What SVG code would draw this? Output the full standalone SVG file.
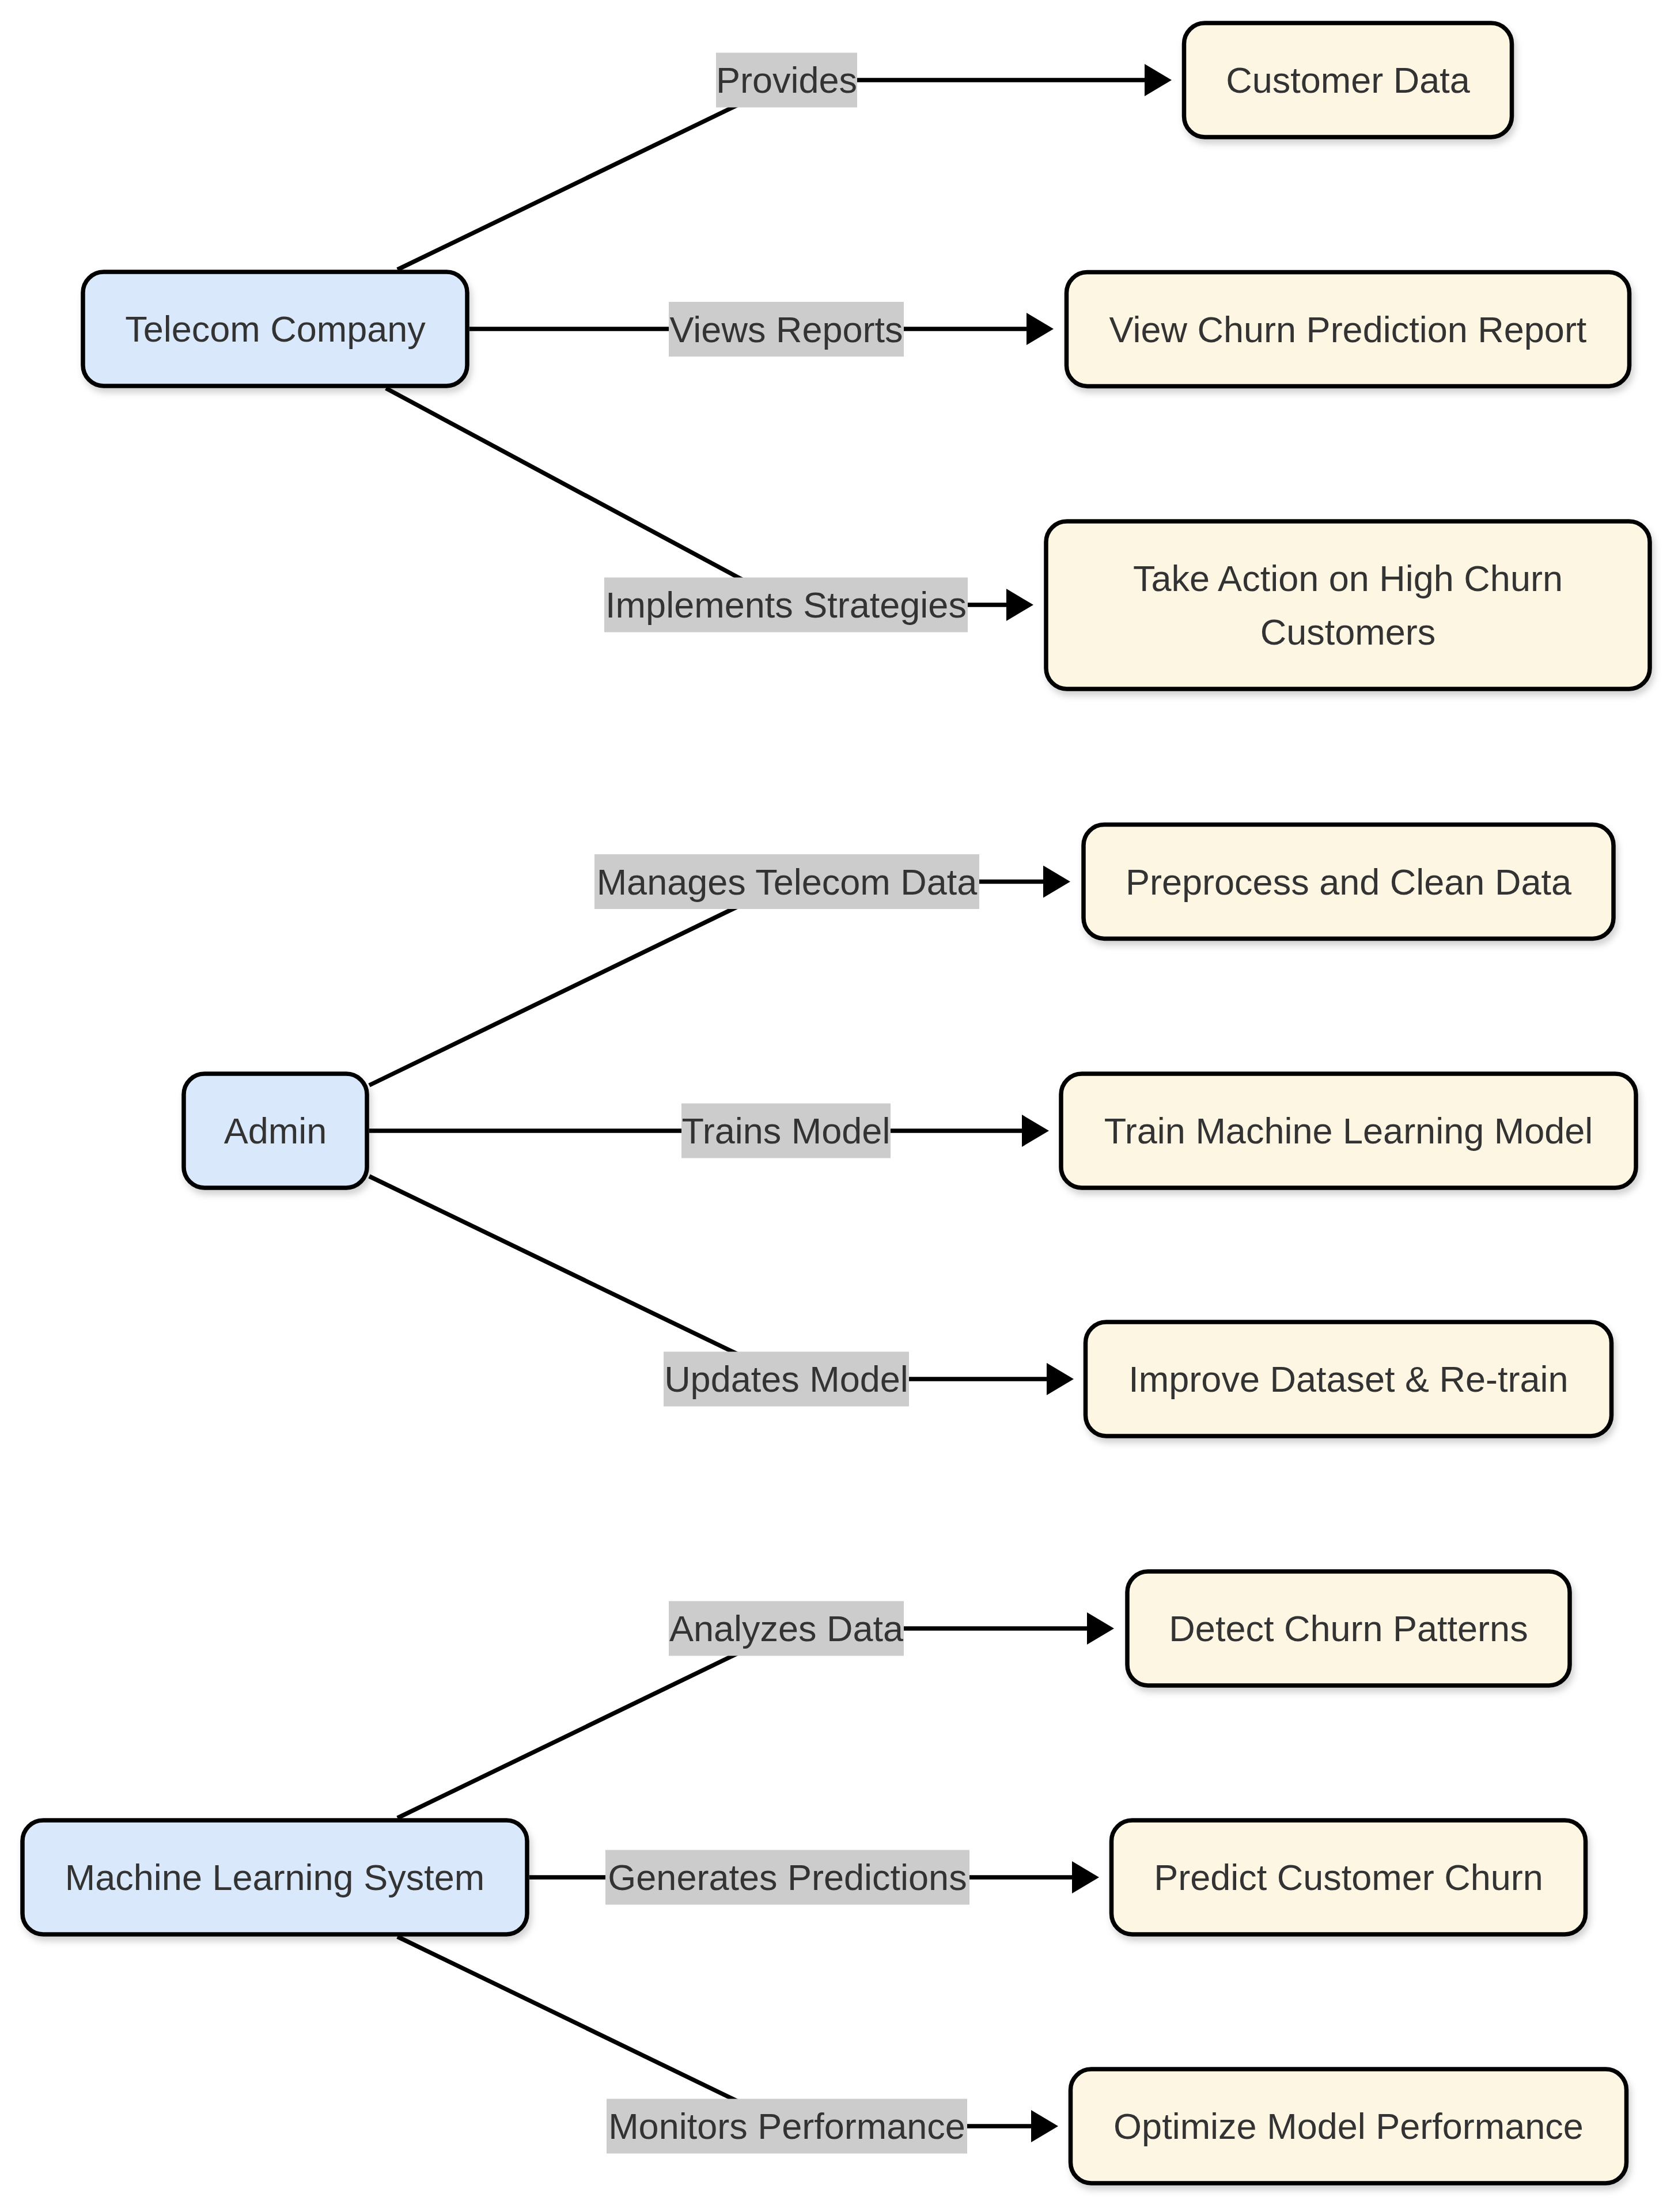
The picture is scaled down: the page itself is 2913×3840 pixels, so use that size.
<svg xmlns="http://www.w3.org/2000/svg" width="2913" height="3840" viewBox="0 0 2913 3840">
<defs>
<style>
.bg{fill:#ffffff}
.edge{fill:none;stroke:#000000;stroke-width:7.5;marker-end:url(#arrow)}
.lblbg{fill:#cccccc}
.lbl{font-family:"Liberation Sans",Arial,sans-serif;font-size:63px;fill:#333333;text-anchor:middle}
.actor rect{fill:#dae8fc;stroke:#000000;stroke-width:7.5;filter:url(#shadow)}
.task rect{fill:#fdf6e3;stroke:#000000;stroke-width:7.5;filter:url(#shadow)}
.node text{font-family:"Liberation Sans",Arial,sans-serif;font-size:63px;fill:#333333;text-anchor:middle}
</style>
<marker id="arrow" viewBox="0 0 47 56" markerWidth="47" markerHeight="56" refX="0" refY="28" markerUnits="userSpaceOnUse" orient="auto">
<path d="M0,0 L47,28 L0,56 Z" fill="#000000"/>
</marker>
<filter id="shadow" x="-10%" y="-20%" width="120%" height="150%">
<feDropShadow dx="4" dy="8" stdDeviation="6" flood-color="#000000" flood-opacity="0.18"/>
</filter>
</defs>
<rect class="bg" x="0" y="0" width="2913" height="3840"/>
<g id="connectors">
<path class="edge" d="M690,468 L1370,139 L1987,139"/>
<path class="edge" d="M815,571 L1782,571"/>
<path class="edge" d="M670,674 L1370,1050 L1747,1050"/>
<path class="edge" d="M641,1884 L1370,1530.5 L1811,1530.5"/>
<path class="edge" d="M641,1963 L1774,1963"/>
<path class="edge" d="M641,2042 L1370,2394 L1817,2394"/>
<path class="edge" d="M690,3156 L1370,2827 L1887,2827"/>
<path class="edge" d="M919,3259 L1861,3259"/>
<path class="edge" d="M690,3362 L1370,3691 L1790,3691"/>
</g>
<g id="edge-labels">
<g id="label-provides"><rect class="lblbg" x="1243" y="91.5" width="245" height="95"/><text class="lbl" x="1365.5" y="161">Provides</text></g>
<g id="label-views-reports"><rect class="lblbg" x="1161" y="524" width="408" height="95"/><text class="lbl" x="1365" y="593.5">Views Reports</text></g>
<g id="label-implements"><rect class="lblbg" x="1049" y="1002.5" width="631" height="95"/><text class="lbl" x="1364.5" y="1072">Implements Strategies</text></g>
<g id="label-manages"><rect class="lblbg" x="1032" y="1483" width="668" height="95"/><text class="lbl" x="1366" y="1552.5">Manages Telecom Data</text></g>
<g id="label-trains"><rect class="lblbg" x="1183" y="1915.5" width="363" height="95"/><text class="lbl" x="1364.5" y="1985">Trains Model</text></g>
<g id="label-updates"><rect class="lblbg" x="1152" y="2346.5" width="426" height="95"/><text class="lbl" x="1365" y="2416">Updates Model</text></g>
<g id="label-analyzes"><rect class="lblbg" x="1161" y="2779.5" width="408" height="95"/><text class="lbl" x="1365" y="2849">Analyzes Data</text></g>
<g id="label-generates"><rect class="lblbg" x="1051" y="3211.5" width="632" height="95"/><text class="lbl" x="1367" y="3281">Generates Predictions</text></g>
<g id="label-monitors"><rect class="lblbg" x="1053" y="3643.5" width="626" height="95"/><text class="lbl" x="1366" y="3713">Monitors Performance</text></g>
</g>
<g id="node-telecom" class="node actor"><rect x="144" y="472" width="667" height="198" rx="36"/><text x="478" y="593">Telecom Company</text></g>
<g id="node-admin" class="node actor"><rect x="319" y="1864" width="318" height="198" rx="36"/><text x="478" y="1985">Admin</text></g>
<g id="node-mlsystem" class="node actor"><rect x="39" y="3160" width="876" height="198" rx="36"/><text x="477" y="3281">Machine Learning System</text></g>
<g id="node-customer-data" class="node task"><rect x="2055.5" y="40" width="569" height="198" rx="36"/><text x="2340" y="161">Customer Data</text></g>
<g id="node-view-report" class="node task"><rect x="1851.5" y="472.5" width="977" height="198" rx="36"/><text x="2340" y="593.5">View Churn Prediction Report</text></g>
<g id="node-take-action" class="node task"><rect x="1816" y="905" width="1048" height="291" rx="36"/><text x="2340" y="1026">Take Action on High Churn</text><text x="2340" y="1119">Customers</text></g>
<g id="node-preprocess" class="node task"><rect x="1881" y="1431.5" width="920" height="198" rx="36"/><text x="2341" y="1552.5">Preprocess and Clean Data</text></g>
<g id="node-train" class="node task"><rect x="1842" y="1864" width="998" height="198" rx="36"/><text x="2341" y="1985">Train Machine Learning Model</text></g>
<g id="node-improve" class="node task"><rect x="1884.5" y="2295" width="913" height="198" rx="36"/><text x="2341" y="2416">Improve Dataset &amp; Re-train</text></g>
<g id="node-detect" class="node task"><rect x="1957" y="2728" width="768" height="198" rx="36"/><text x="2341" y="2849">Detect Churn Patterns</text></g>
<g id="node-predict" class="node task"><rect x="1929.5" y="3160" width="823" height="198" rx="36"/><text x="2341" y="3281">Predict Customer Churn</text></g>
<g id="node-optimize" class="node task"><rect x="1858.5" y="3592" width="965" height="198" rx="36"/><text x="2341" y="3713">Optimize Model Performance</text></g>
</svg>
